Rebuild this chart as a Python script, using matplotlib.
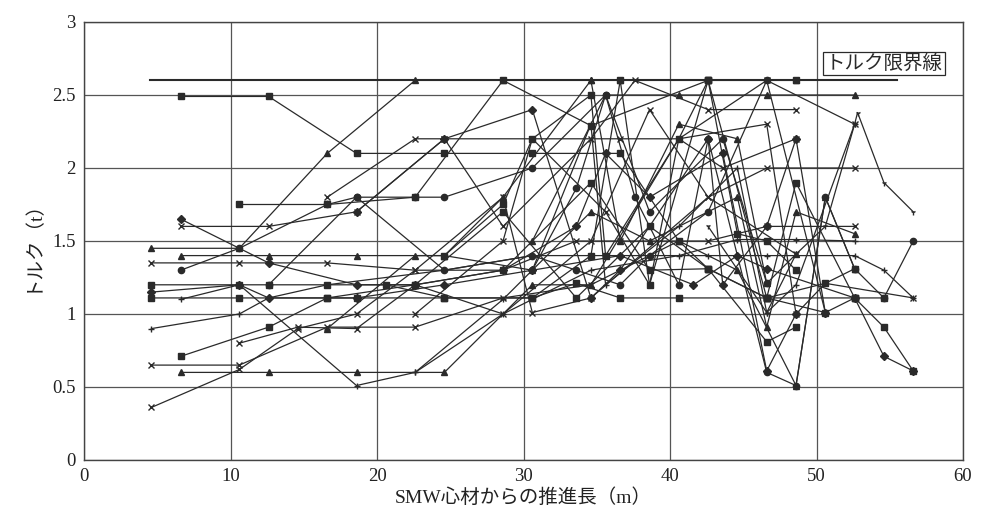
import matplotlib
matplotlib.use("Agg")
import matplotlib.pyplot as plt

plt.rcParams['font.family'] = ['Liberation Serif', 'Noto Sans CJK JP']

# torque limit line
limit_x = [4.5, 55.5]
limit_y = [2.6, 2.6]

# measured torque series: (marker, distance [m], torque [t])
s01 = ('s', [6.6, 12.6, 18.6, 24.6, 30.6, 36.6, 40.6, 42.6, 46.6, 50.6, 52.6],
       [2.49, 2.49, 2.10, 2.10, 2.10, 2.10, 1.50, 1.31, 1.11, 1.21, 1.31])
s02 = ('^', [4.6, 10.6, 16.6, 22.6, 28.6, 34.6, 36.6, 42.6, 48.6],
       [1.45, 1.45, 2.10, 2.60, 2.60, 2.60, 2.60, 2.60, 2.60])
s03 = ('s', [10.6, 16.6, 22.6, 28.6, 34.6, 42.6, 48.6],
       [1.75, 1.75, 1.80, 2.60, 2.29, 2.60, 2.60])
s04 = ('x', [16.6, 22.6, 24.6, 30.6, 36.6, 40.6, 46.6, 52.6],
       [1.80, 2.20, 2.20, 2.20, 2.20, 2.20, 2.60, 2.30])
s05 = ('1', [42.6, 46.6, 48.6, 50.6, 52.6, 52.8, 54.6, 56.6],
       [1.60, 1.01, 1.41, 1.60, 2.30, 2.38, 1.90, 1.70])
s06 = ('o', [6.6, 10.6, 16.6, 18.6, 22.6, 24.6, 30.6, 35.6, 38.6, 43.6, 46.6],
       [1.30, 1.45, 1.75, 1.80, 1.80, 1.80, 2.00, 2.50, 1.70, 2.20, 1.21])
s07 = ('D', [6.6, 12.6, 18.6, 22.6, 28.6, 33.6, 35.6, 38.6, 43.6, 46.6, 48.6],
       [1.65, 1.35, 1.20, 1.20, 1.30, 1.60, 2.10, 1.80, 2.10, 0.61, 1.00])
s08 = ('x', [6.6, 12.6, 18.6, 24.6, 28.6, 34.6, 37.6, 42.6, 48.6],
       [1.60, 1.60, 1.70, 2.20, 1.60, 2.20, 2.60, 2.40, 2.40])
s09 = ('^', [6.6, 12.6, 18.6, 24.6, 30.6, 34.6, 38.6, 44.6, 46.6, 48.6, 52.6],
       [1.40, 1.40, 1.40, 1.40, 1.30, 1.70, 1.50, 1.80, 0.91, 1.70, 1.55])
s10 = ('x', [4.6, 10.6, 16.6, 22.6, 28.6, 33.6, 36.6, 42.6, 46.6, 52.6],
       [1.35, 1.35, 1.35, 1.30, 1.30, 1.50, 1.50, 1.50, 1.60, 1.60])
s11 = ('s', [4.6, 10.6, 12.6, 16.6, 22.6, 28.6, 34.6, 38.6, 42.6, 46.6, 48.6],
       [1.20, 1.20, 1.20, 1.20, 1.20, 1.30, 1.90, 1.30, 1.31, 0.81, 0.91])
s12 = ('s', [4.6, 10.6, 16.6, 18.6, 24.6, 30.6, 33.6, 36.6, 40.6, 46.6, 50.6, 52.6],
       [1.11, 1.11, 1.11, 1.11, 1.11, 1.11, 1.21, 1.11, 1.11, 1.11, 1.01, 1.11])
s13 = ('D', [4.6, 10.6, 12.6, 18.6, 24.6, 30.6, 36.6, 41.6, 44.6, 46.6, 52.6, 54.6, 56.6],
       [1.15, 1.20, 1.11, 1.11, 1.20, 1.30, 1.40, 1.20, 1.40, 1.31, 1.11, 0.71, 0.61])
s14 = ('+', [4.6, 10.6, 12.6, 16.6, 24.6, 30.6, 36.6, 42.6, 46.6, 52.6, 54.6, 56.6],
       [0.90, 1.00, 1.11, 1.20, 1.30, 1.40, 1.40, 1.40, 1.40, 1.40, 1.30, 1.11])
s15 = ('s', [6.6, 12.6, 16.6, 22.6, 28.6, 33.6, 38.6, 42.6, 46.6, 52.6, 54.6, 56.6],
       [0.71, 0.91, 1.11, 1.20, 1.70, 1.11, 1.60, 1.31, 1.11, 1.11, 0.91, 0.61])
s16 = ('x', [4.6, 10.6, 16.6, 22.6, 28.6, 34.6, 40.6, 43.6, 48.6],
       [0.65, 0.65, 0.91, 0.91, 1.11, 1.20, 2.20, 2.00, 2.20])
s17 = ('^', [6.6, 12.6, 18.6, 24.6, 30.6, 34.6, 40.6, 44.6, 48.6, 50.6, 52.6],
       [0.60, 0.60, 0.60, 0.60, 1.20, 1.20, 1.50, 1.30, 0.51, 1.80, 1.31])
s18 = ('x', [4.6, 10.6, 14.6, 18.6, 22.6, 28.6, 30.6, 34.6, 42.6, 46.6, 52.6],
       [0.36, 0.62, 0.90, 1.00, 1.30, 1.80, 1.01, 1.11, 1.80, 2.00, 2.00])
s19 = ('+', [6.6, 10.6, 18.6, 22.6, 28.6, 34.6, 40.6, 44.6, 48.6, 52.6],
       [1.10, 1.20, 0.51, 0.60, 1.00, 1.30, 1.40, 1.51, 1.51, 1.50])
s20 = ('o', [30.6, 33.6, 35.6, 37.6, 40.6, 42.6, 46.6, 48.6, 50.6, 52.6, 54.6, 56.6],
       [1.30, 1.86, 2.50, 1.80, 1.20, 2.20, 0.60, 0.51, 1.80, 1.31, 1.11, 1.50])
s21 = ('s', [24.6, 28.6, 30.6, 34.6, 35.6, 40.6, 42.6, 46.6, 48.6, 52.6, 54.6],
       [1.40, 1.75, 2.20, 2.50, 1.40, 2.20, 2.60, 1.11, 1.90, 1.11, 1.11])
s22 = ('x', [22.6, 28.6, 30.6, 35.6, 38.6, 40.6, 46.6, 48.6, 50.6, 56.6],
       [1.00, 1.50, 2.20, 1.70, 1.20, 2.20, 2.30, 1.00, 1.21, 1.11])
s23 = ('^', [16.6, 22.6, 24.6, 28.6, 34.6, 36.6, 40.6, 44.6, 46.6, 48.6],
       [0.90, 1.40, 1.40, 1.80, 2.60, 1.50, 2.30, 2.20, 1.21, 1.41])
s24 = ('D', [18.6, 24.6, 30.6, 34.6, 36.6, 42.6, 43.6, 46.6, 48.6, 50.6],
       [1.70, 2.20, 2.40, 1.11, 1.30, 2.20, 1.20, 1.60, 2.20, 1.01])
s25 = ('s', [20.6, 24.6, 30.6, 34.6, 36.6, 38.6, 42.6, 44.6, 46.6, 48.6],
       [1.20, 1.11, 1.11, 1.40, 2.60, 1.20, 2.60, 1.55, 1.50, 1.30])
s26 = ('+', [22.6, 28.6, 30.6, 34.6, 35.6, 40.6, 44.6, 46.6, 48.6, 52.6],
       [0.60, 1.10, 1.30, 2.30, 1.20, 1.60, 2.00, 1.01, 1.20, 2.30])
s27 = ('o', [12.6, 18.6, 24.6, 30.6, 33.6, 36.6, 38.6, 42.6, 46.6, 50.6],
       [1.20, 1.80, 1.30, 1.40, 1.30, 1.20, 1.40, 1.70, 2.60, 1.01])
s28 = ('x', [10.6, 14.6, 18.6, 22.6, 28.6, 34.6, 38.6, 42.6, 48.6],
       [0.80, 0.91, 0.90, 1.20, 1.00, 1.50, 2.40, 1.80, 1.41])
s29 = ('^', [30.6, 35.6, 40.6, 46.6, 52.6],
       [1.50, 2.50, 2.50, 2.50, 2.50])

series = [s01, s02, s03, s04, s05, s06, s07, s08, s09, s10, s11, s12, s13, s14, s15,
          s16, s17, s18, s19, s20, s21, s22, s23, s24, s25, s26, s27, s28, s29]

x_ticks = [0, 10, 20, 30, 40, 50, 60]
y_ticks = [0, 0.5, 1, 1.5, 2, 2.5, 3]
y_tick_labels = ['0', '0.5', '1', '1.5', '2', '2.5', '3']

fig = plt.figure(figsize=(9.85, 5.15), dpi=100)
ax = fig.add_axes([0.0853, 0.1068, 0.8924, 0.8505])

ink = '#2a2a2a'
for marker, xs, ys in series:
    msize = 4.5 if marker in ('s', 'o', '^') else 4
    ax.plot(xs, ys, color=ink, lw=0.9, marker=marker, markersize=msize,
            markeredgewidth=1.0, markerfacecolor=ink, markeredgecolor=ink)

ax.plot(limit_x, limit_y, color=ink, lw=1.5)
ax.text(50.6, 2.715, 'トルク限界線', fontsize=14, color=ink, va='center', ha='left',
        bbox=dict(boxstyle='square,pad=0.12', facecolor='white', edgecolor=ink, lw=0.9))

ax.set_xlim(0, 60)
ax.set_ylim(0, 3)
ax.set_xticks(x_ticks)
ax.set_yticks(y_ticks)
ax.set_yticklabels(y_tick_labels)
ax.tick_params(length=0, labelsize=13.5, colors='#222', pad=6)
ax.grid(True, color='#555', lw=0.9)
ax.set_axisbelow(True)
for sp in ax.spines.values():
    sp.set_color('#444')
    sp.set_linewidth(1.0)

ax.set_xlabel('SMW心材からの推進長（m）', fontsize=14, color='#222', labelpad=2)
ax.set_ylabel('トルク（t）', fontsize=14, color='#222', labelpad=8)

fig.savefig('out.png', dpi=100)
